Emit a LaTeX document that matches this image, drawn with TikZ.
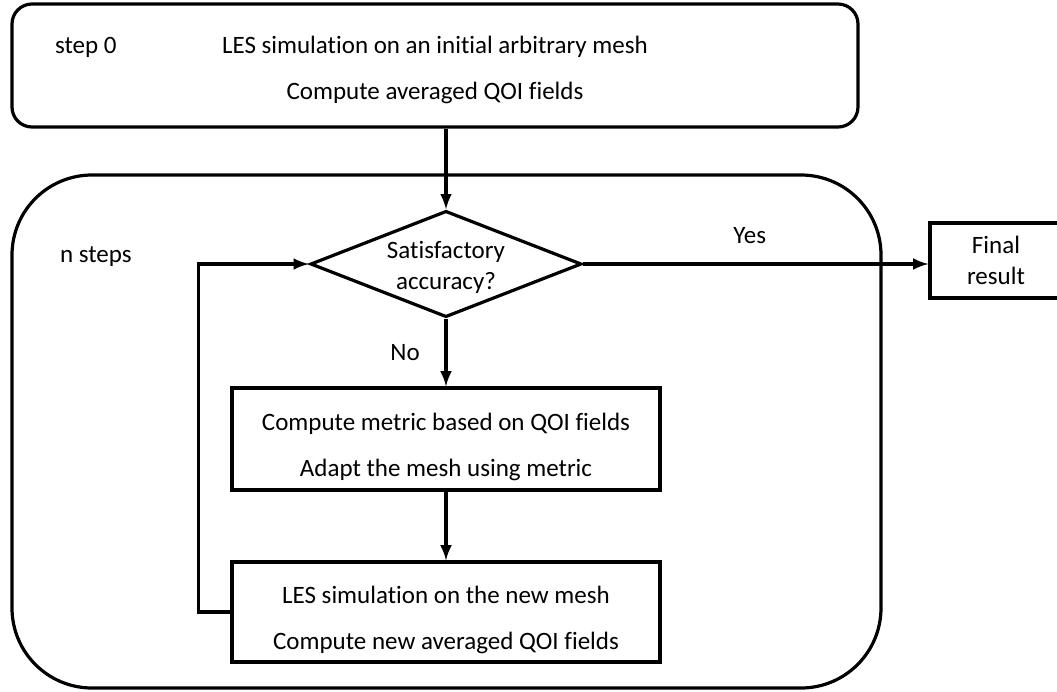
\documentclass[tikz,border=0pt]{standalone}
\usepackage{fontspec}
\setmainfont{Carlito}[Ligatures=CommonOff]
\usetikzlibrary{arrows,shapes.geometric}

\newcommand{\lift}[1]{\rule{0pt}{#1}}

\tikzset{
  boxtext/.style={font=\fontsize{12.5}{23}\selectfont, align=center},
  smalltext/.style={font=\fontsize{12.5}{15.5}\selectfont, align=center},
  stepbox/.style={draw, line width=1.6pt, boxtext},
  decision/.style={draw, diamond, aspect=2.55, line width=1.6pt, inner sep=0pt, smalltext},
  flow/.style={->, line width=1.6pt},
}

\begin{document}
\begin{tikzpicture}[x=0.5pt,y=-0.5pt,>=latex]
\useasboundingbox (0,0) rectangle (1057,692);

% The outer frames
\node[stepbox, rounded corners=10pt, minimum width=423pt, minimum height=61.5pt]
  (init) at (435,65.5) {\lift{13pt}LES simulation on an initial arbitrary mesh\\Compute averaged QOI fields};
\node[anchor=base west, font=\fontsize{12.5}{15}\selectfont] (steplabel) at (48,53) {step 0};
\draw[line width=1.6pt, rounded corners=40pt] (12,175) rectangle (881,688);
\node[anchor=base west, font=\fontsize{12.5}{15}\selectfont] (looplabel) at (53,262) {n steps};

% The loop
\node[decision, minimum width=132.5pt, minimum height=52pt]
  (acc) at (446,264) {\lift{12.5pt}Satisfactory\\accuracy?};
\node[stepbox, minimum width=214pt, minimum height=51pt]
  (adapt) at (446,439) {\lift{17pt}Compute metric based on QOI fields\\Adapt the mesh using metric};
\node[stepbox, minimum width=214pt, minimum height=50pt]
  (rerun) at (446,612) {\lift{16.5pt}LES simulation on the new mesh\\Compute new averaged QOI fields};
\node[stepbox, smalltext, minimum width=66pt, minimum height=37.5pt]
  (final) at (996,260.5) {Final\\result};

% The arrows
\draw[flow] (init.south -| acc.north) -- (acc.north);
\draw[flow] (acc.east) -- (acc.east -| final.west)
  node[midway, above=6pt, xshift=-3pt, font=\fontsize{12.5}{15}\selectfont] {Yes};
\draw[flow] (acc.south) -- (adapt.north)
  node[midway, left=9pt, font=\fontsize{12.5}{15}\selectfont] {No};
\draw[flow] (adapt.south) -- (rerun.north);
\draw[flow] (rerun.west) -- ++(-32,0) |- (acc.west);
\end{tikzpicture}
\end{document}
